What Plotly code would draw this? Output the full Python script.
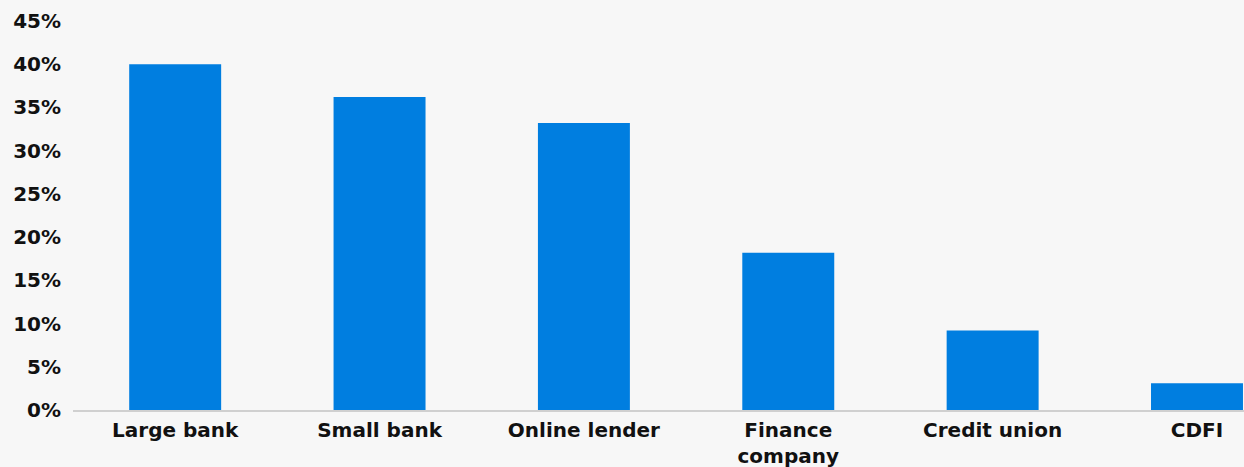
import plotly.graph_objects as go

categories = ["Large bank", "Small bank", "Online lender", "Finance<br>company", "Credit union", "CDFI"]
values = [40, 36.2, 33.2, 18.2, 9.2, 3.1]
tick_vals = [0, 5, 10, 15, 20, 25, 30, 35, 40, 45]
tick_text = [f"{v}%" for v in tick_vals]

fig = go.Figure(go.Bar(x=list(range(len(categories))), y=values, marker_color="#007ee0",
                       marker_line_width=0, hoverinfo="skip"))

fig.update_layout(
    width=1244, height=467,
    margin=dict(l=72.5, r=0, t=21, b=57),
    paper_bgcolor="#f7f7f7", plot_bgcolor="#f7f7f7",
    bargap=0.55, showlegend=False,
    font=dict(family="DejaVu Sans", size=20, color="#111111", weight="bold"),
)
fig.update_xaxes(tickmode="array", tickvals=list(range(len(categories))), ticktext=categories,
                 range=[-0.5, 5.23], showgrid=False, showline=True, linecolor="#d0d0d0",
                 linewidth=1.5, ticks="", zeroline=False, ticklabelstandoff=1)
fig.update_yaxes(range=[0, 45], tickmode="array", tickvals=tick_vals, ticktext=tick_text,
                 showgrid=False, zeroline=False, showline=False, ticks="", ticklabelstandoff=11)

fig.write_html("out.html", config={"displayModeBar": False},
               post_script="document.body.style.margin='0';document.body.style.background='#f7f7f7';")
